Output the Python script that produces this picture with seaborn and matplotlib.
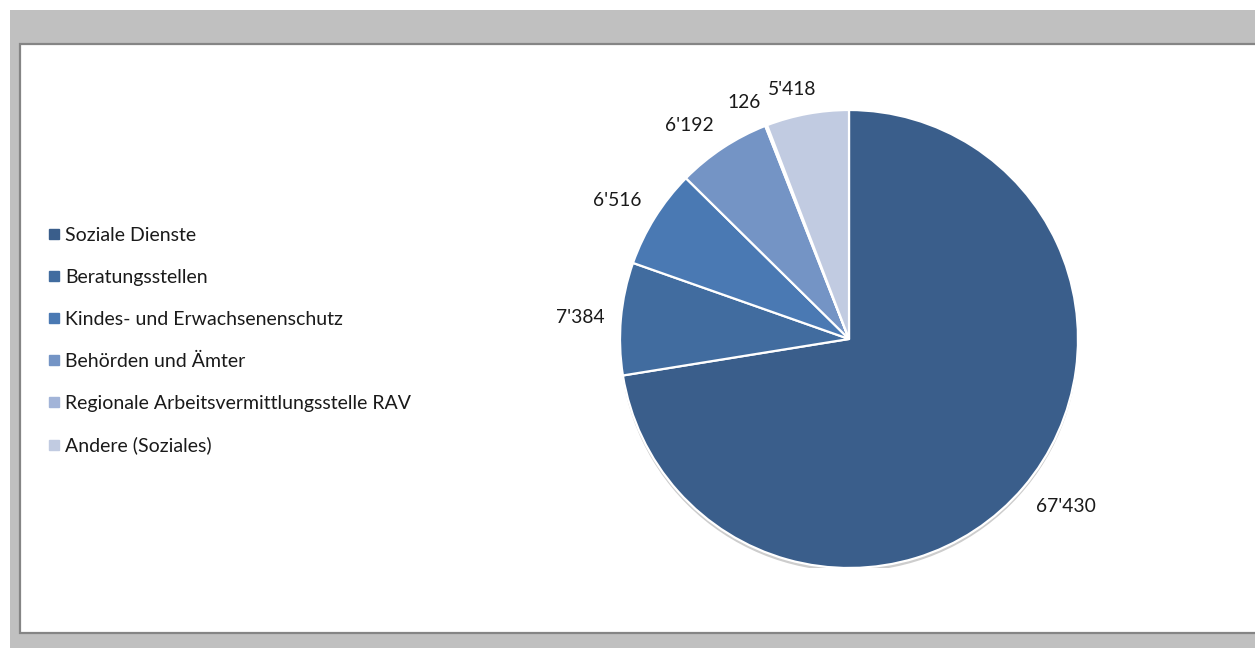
import numpy as np
import matplotlib
matplotlib.use("Agg")
import matplotlib.pyplot as plt
import matplotlib.patches as mpatches
import matplotlib.patheffects as pe
import matplotlib.transforms as mtransforms
from matplotlib.lines import Line2D
import seaborn as sns

categories = [
    "Soziale Dienste",
    "Beratungsstellen",
    "Kindes- und Erwachsenenschutz",
    "Behörden und Ämter",
    "Regionale Arbeitsvermittlungsstelle RAV",
    "Andere (Soziales)",
]
values = [67430, 7384, 6516, 6192, 126, 5418]
colors = ["#3a5e8b", "#416c9f", "#4a79b3", "#7494c5", "#a2b4d8", "#c1cbe1"]

sns.set_theme(style="white")
plt.rcParams["font.family"] = ["Lato", "DejaVu Sans"]

W, H = 1255, 648
fig = plt.figure(figsize=(W / 100, H / 100), dpi=100, facecolor="white")

# grey frame and white chart area
fig.patches.append(mpatches.Rectangle((10 / W, 0), 1, (H - 10) / H,
                                      transform=fig.transFigure,
                                      facecolor="#c0c0c0", edgecolor="none", zorder=-3))
fig.patches.append(mpatches.Rectangle((19.5 / W, (H - 633) / H), 1.0, (633 - 43.5) / H,
                                      transform=fig.transFigure,
                                      facecolor="white", edgecolor="#858585",
                                      linewidth=1.6, zorder=-2))

# pie axes: centre (849, 339) px, radius 229 px
cx, cy, r = 849, 339, 229
ax = fig.add_axes([(cx - r) / W, (H - cy - r) / H, 2 * r / W, 2 * r / H])
ax.set_facecolor("none")
ax.set_zorder(2)

# soft shadow under the pie
shadow = mpatches.Circle((0, 0), 1.0, facecolor="white", edgecolor="none", zorder=0,
                         path_effects=[pe.SimplePatchShadow(offset=(0, -2.5),
                                                            shadow_rgbFace="#707070",
                                                            alpha=0.35),
                                       pe.Normal()])
ax.add_patch(shadow)

wedges, _ = ax.pie(values, colors=colors, startangle=90, counterclock=False,
                   radius=1.0,
                   wedgeprops=dict(edgecolor="white", linewidth=1.6))
ax.set_xlim(-1, 1)
ax.set_ylim(-1, 1)
ax.set_aspect("equal")
ax.axis("off")

# value labels just outside each wedge
renderer = fig.canvas.get_renderer()
label_fs = 13.9
for w, v in zip(wedges, values):
    ang = np.deg2rad((w.theta1 + w.theta2) / 2)
    c, s = np.cos(ang), np.sin(ang)
    d = 1.07
    if s > 0.15:
        va = "bottom"
    elif s < -0.15:
        va = "top"
    else:
        va = "center"
    label = f"{v:,}".replace(",", "'")
    if abs(c) >= 0.35:
        ha = "left" if c > 0 else "right"
        ax.text(d * c, d * s, label, ha=ha, va=va, fontsize=label_fs, color="#1a1a1a")
    else:
        # near-vertical directions: slide the label smoothly sideways
        t = ax.text(d * c, d * s, label, ha="center", va=va,
                    fontsize=label_fs, color="#1a1a1a")
        half_w = t.get_window_extent(renderer).width / 2
        t.set_transform(mtransforms.offset_copy(ax.transData, fig=fig,
                                                x=half_w * c / 0.35, y=0,
                                                units="dots"))

# legend on the left
handles = [Line2D([0], [0], marker="s", linestyle="none", markersize=7,
                  markerfacecolor=col, markeredgecolor=col) for col in colors]
fig.legend(handles, categories, loc="upper left",
           bbox_to_anchor=(47 / W, 1 - 227 / H), frameon=False,
           fontsize=14.0, labelspacing=1.28, handlelength=0.7,
           handletextpad=0.25, borderpad=0, borderaxespad=0,
           labelcolor="#1a1a1a")

fig.savefig("out.png", dpi=100, facecolor="white")
